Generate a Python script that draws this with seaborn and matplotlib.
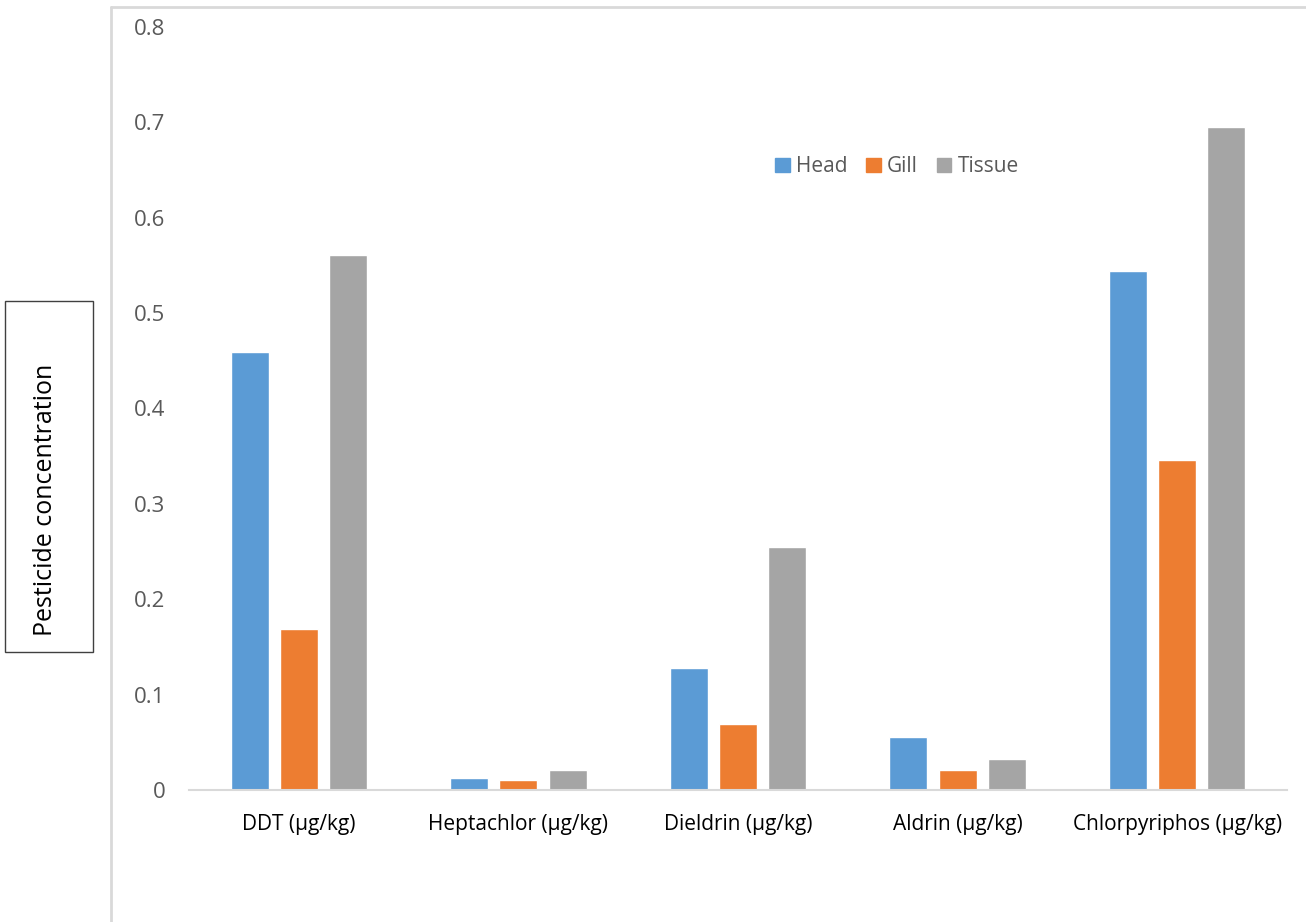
import matplotlib
matplotlib.use("Agg")
import matplotlib.pyplot as plt
from matplotlib.lines import Line2D
from matplotlib.patches import Rectangle
import seaborn as sns
import pandas as pd

# Pesticide residues by fish body part
categories = ["DDT (µg/kg)", "Heptachlor (µg/kg)", "Dieldrin (µg/kg)",
              "Aldrin (µg/kg)", "Chlorpyriphos (µg/kg)"]
head = [0.459, 0.0125, 0.128, 0.0555, 0.544]
gill = [0.169, 0.0105, 0.069, 0.021, 0.346]
tissue = [0.561, 0.021, 0.255, 0.0325, 0.695]
series_names = ["Head", "Gill", "Tissue"]
colors = ["#5B9BD5", "#ED7D31", "#A5A5A5"]

df = pd.DataFrame({
    "Pesticide": categories * 3,
    "Part": [s for s in series_names for _ in categories],
    "Concentration": head + gill + tissue,
})

sns.set_theme(style="white")
plt.rcParams["font.family"] = ["Open Sans", "DejaVu Sans"]

W, H = 1306, 922
fig = plt.figure(figsize=(W / 100, H / 100), dpi=100)
ax = fig.add_axes([189 / W, 1 - 790 / H, 1098 / W, 763 / H])

sns.barplot(data=df, x="Pesticide", y="Concentration", hue="Part",
            palette=colors, width=0.672, gap=0.225, saturation=1,
            ax=ax, legend=False)

ax.set_ylim(0, 0.8)
ax.set_xlim(-0.5, 4.5)
ax.set_yticks([i / 10 for i in range(9)])
ax.set_yticklabels(["0"] + [f"{i / 10:.1f}" for i in range(1, 9)])
ax.tick_params(axis="y", length=0, pad=17, labelsize=16, labelcolor="#595959")
ax.tick_params(axis="x", length=0, pad=17, labelsize=15, labelcolor="#000000")
ax.set_xlabel("")
ax.set_ylabel("")
for side in ["left", "right", "top"]:
    ax.spines[side].set_visible(False)
ax.spines["bottom"].set_color("#d9d9d9")
ax.spines["bottom"].set_linewidth(1.5)
ax.grid(False)

# Chart area frame (left and top edges)
fx = 111 / W
fy = 1 - 7 / H
fig.add_artist(Line2D([fx, fx], [0, fy], transform=fig.transFigure,
                      color="#d9d9d9", lw=2))
fig.add_artist(Line2D([fx, 1], [fy, fy], transform=fig.transFigure,
                      color="#d9d9d9", lw=2))

# Boxed y-axis title
fig.add_artist(Rectangle((5 / W, 1 - 652 / H), 88 / W, 351 / H,
                         transform=fig.transFigure, facecolor="white",
                         edgecolor="#404040", linewidth=1))
fig.text(46 / W, 1 - 500 / H, "Pesticide concentration", rotation=90,
         ha="center", va="center", fontsize=18, color="#000000")

handles = [plt.Rectangle((0, 0), 1, 1, color=c) for c in colors]
fig.legend(handles, series_names, loc="center",
           bbox_to_anchor=(897 / W, 1 - 167 / H), ncol=3, frameon=False,
           fontsize=15, handlelength=0.7, handleheight=0.7,
           handletextpad=0.3, columnspacing=0.9, labelcolor="#595959")

fig.savefig("out.png", dpi=100, facecolor="white")
